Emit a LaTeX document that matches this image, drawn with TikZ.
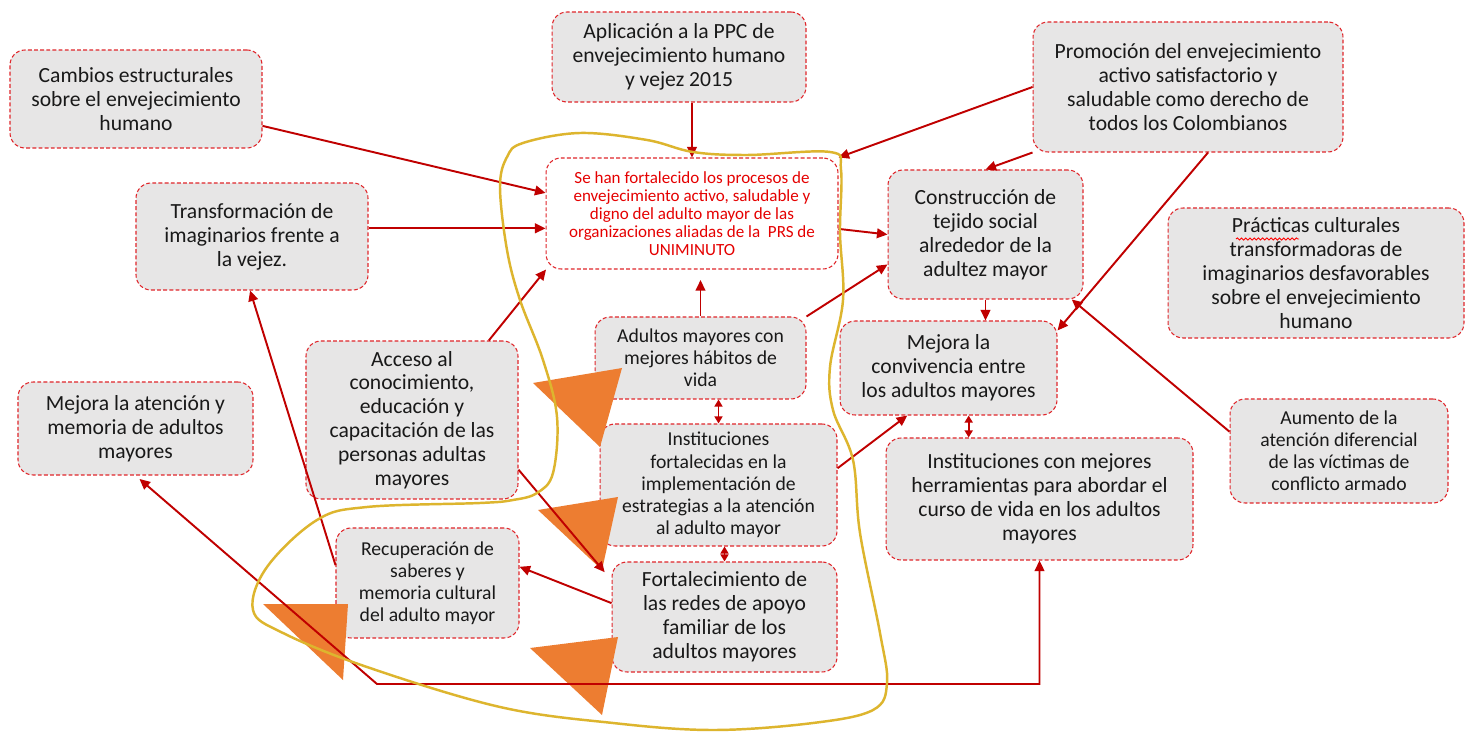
\documentclass[tikz,border=0pt]{standalone}
\usepackage{fontspec}
\setmainfont{Carlito}
\usetikzlibrary{arrows.meta,decorations.pathmorphing}

\definecolor{boxred}{HTML}{E0262B}
\definecolor{arrred}{HTML}{C00000}
\definecolor{boxgrey}{HTML}{E7E6E6}
\definecolor{loopgold}{HTML}{DDB52E}
\definecolor{spikeorange}{HTML}{ED7D31}

\begin{document}
\begin{tikzpicture}[
    x=0.02cm, y=-0.02cm,
    box/.style={draw=boxred, dash pattern=on 2.2pt off 1.3pt, line width=0.6pt,
                fill=boxgrey, rounded corners=0.3cm, align=center, text=black!90,
                inner sep=2pt, font=\fontsize{12.3}{13.6}\selectfont},
    sbox/.style={box, font=\fontsize{11.2}{12.6}\selectfont},
    goal/.style={box, fill=white, text=red!90!black, font=\fontsize{9.7}{10.3}\selectfont},
    link/.style={arrred, line width=1.1pt, -{Triangle[length=6pt,width=5.5pt]}},
    bilink/.style={arrred, line width=1.1pt,
                   {Triangle[length=6pt,width=5.5pt]}-{Triangle[length=6pt,width=5.5pt]}},
    duo/.style={arrred, line width=1.1pt,
                {Triangle[length=4pt,width=4.5pt]}-{Triangle[length=4pt,width=4.5pt]}},
    spike/.style={fill=spikeorange},
    squiggle/.style={red, line width=0.5pt, decorate,
                     decoration={snake, amplitude=0.6pt, segment length=2.4pt}}
  ]
  \fill[white] (0,0) rectangle (1466,732);
  \useasboundingbox (0,0) rectangle (1466,732);

  % top row
  \node[box, minimum width=5.04cm, minimum height=1.96cm] (cambios) at (136,99)
    {Cambios estructurales\\sobre el envejecimiento\\humano};
  \node[box, minimum width=5.08cm, minimum height=1.80cm] (aplicacion) at (679,57)
    {Aplicación a la PPC de\\envejecimiento humano\\y vejez 2015};
  \node[box, minimum width=6.20cm, minimum height=2.60cm] (promocion) at (1188,87)
    {Promoción del envejecimiento\\activo satisfactorio y\\saludable como derecho de\\todos los Colombianos};

  % central result
  \node[goal, minimum width=5.84cm, minimum height=2.22cm] (central) at (692,213.5)
    {Se han fortalecido los procesos de\\envejecimiento activo, saludable y\\digno del adulto mayor de las\\organizaciones aliadas de la \ PRS de\\UNIMINUTO};

  \node[box, minimum width=4.64cm, minimum height=2.14cm] (transformacion) at (252,236.5)
    {Transformación de\\imaginarios frente a\\la vejez.};
  \node[box, minimum width=3.90cm, minimum height=2.58cm] (construccion) at (985.5,234.5)
    {Construcción de\\tejido social\\alrededor de la\\adultez mayor};
  \node[box, minimum width=5.92cm, minimum height=2.60cm] (practicas) at (1316,273)
    {Prácticas culturales\\transformadoras de\\imaginarios desfavorables\\sobre el envejecimiento\\humano};
  \draw[squiggle] ([shift={(-80,-34)}]practicas.center) -- ([shift={(-17,-34)}]practicas.center);

  % middle
  \node[sbox, minimum width=4.22cm, minimum height=1.64cm] (habitos) at (700.5,358)
    {Adultos mayores con\\mejores hábitos de\\vida};
  \node[box, minimum width=4.34cm, minimum height=1.88cm] (convivencia) at (948.5,368)
    {Mejora la\\convivencia entre\\los adultos mayores};
  \node[box, minimum width=4.24cm, minimum height=3.16cm] (acceso) at (412,420)
    {Acceso al\\conocimiento,\\educación y\\capacitación de las\\personas adultas\\mayores};
  \node[box, minimum width=4.70cm, minimum height=1.86cm] (atencion) at (135.5,428.5)
    {Mejora la atención y\\memoria de adultos\\mayores};
  \node[sbox, minimum width=4.74cm, minimum height=2.44cm] (instfort) at (718.5,485)
    {Instituciones\\fortalecidas en la\\implementación de\\estrategias a la atención\\al adulto mayor};
  \node[sbox, minimum width=4.36cm, minimum height=2.08cm] (victimas) at (1339,451)
    {Aumento de la\\atención diferencial\\de las víctimas de\\conflicto armado};
  \node[box, minimum width=6.14cm, minimum height=2.44cm] (instmej) at (1039.5,499)
    {Instituciones con mejores\\herramientas para abordar el\\curso de vida en los adultos\\mayores};

  % bottom
  \node[sbox, minimum width=3.66cm, minimum height=2.20cm] (saberes) at (427.5,583)
    {Recuperación de\\saberes y\\memoria cultural\\del adulto mayor};
  \node[box, minimum width=4.50cm, minimum height=2.20cm] (redes) at (724.5,617)
    {Fortalecimiento de\\las redes de apoyo\\familiar de los\\adultos mayores};

  % orange marks
  \foreach \ax/\ay/\bx/\by/\cx/\cy in {533/383/622/368/600/447, 538/510/618/497/602/570,
      530/648/618/637/602/715, 263/604/348/604/343/680}
    \fill[spike] (\ax,\ay) -- (\bx,\by) -- (\cx,\cy) -- cycle;

  % connectors
  \draw[link] (cambios.-12) -- (central.172);
  \draw[link] (transformacion.4) -- (transformacion.4 -| central.west);
  \draw[link] (central.north |- aplicacion.south) -- (central.north);
  \draw[link] (promocion.west) -- (central.north east);
  \draw[link] (promocion.south west) -- (construccion.north);
  \draw[link] (promocion.-73) -- (convivencia.19);
  \draw[link] (central.-6) -- (construccion.west);
  \draw[link] (acceso.46) -- (central.-159);
  \draw[link, shorten >=6pt] (habitos.north) -- (habitos.north |- central.south);
  \draw[link] (habitos.north east) -- (construccion.197);
  \draw[link] (construccion.south) -- (construccion.south |- convivencia.north);
  \draw[link] (victimas.170) -- (construccion.-37);
  \draw[duo] (instfort.north |- habitos.south) -- (instfort.north);
  \draw[duo] (redes.north |- instfort.south) -- (redes.north);
  \draw[duo] (convivencia.-67.5) -- (convivencia.-67.5 |- instmej.north);
  \draw[link] (instfort.8) -- (convivencia.-131);
  \draw[link, shorten >=6pt] (acceso.-25) -- (redes.162);
  \draw[link] (redes.173) -- (saberes.10.5);
  \draw[link] (saberes.169) -- (transformacion.-92);
  \coordinate (turn) at (377,684);
  \draw[bilink, shorten <=3pt] (atencion.south) -- (turn) -- (turn -| instmej.south)
    -- (instmej.south);

  % hand drawn loop
  \draw[loopgold, line width=1.4pt] plot[smooth cycle, tension=0.6] coordinates {
    (580,133) (647,140) (693,152) (747,155) (830,152) (841,170) (840,233) (843,300)
    (830,367) (833,410) (853,460) (860,533) (880,633) (887,683) (873,710) (813,723)
    (713,730) (613,723) (500,707) (367,667) (283,633) (253,610) (267,567) (317,520)
    (367,507) (480,503) (513,500) (537,493) (553,473) (557,417) (543,360) (520,300)
    (507,250) (500,187) (507,157) (523,143)};
\end{tikzpicture}
\end{document}
